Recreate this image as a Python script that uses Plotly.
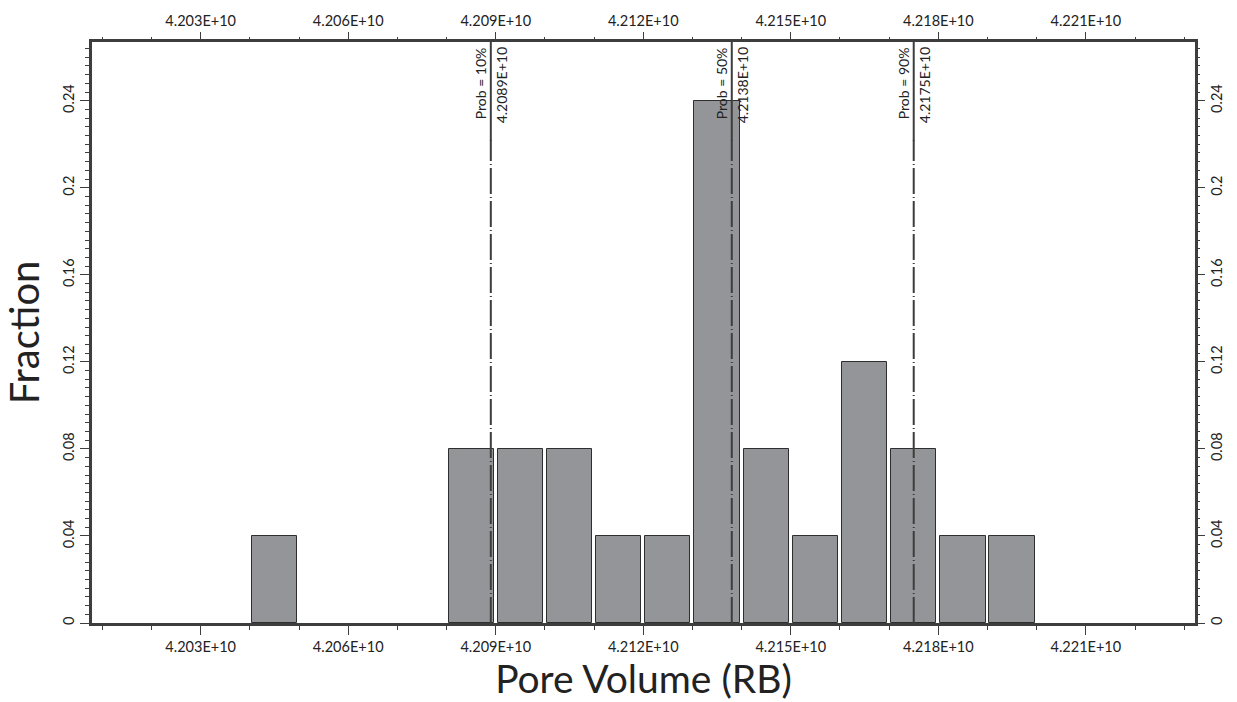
import plotly.graph_objects as go

# Histogram of pore volume (RB): left edge of each bin and its fraction
bin_start = [4.204e10, 4.208e10, 4.209e10, 4.210e10, 4.211e10, 4.212e10, 4.213e10,
             4.214e10, 4.215e10, 4.216e10, 4.217e10, 4.218e10, 4.219e10]
fraction = [0.04, 0.08, 0.08, 0.08, 0.04, 0.04, 0.24, 0.08, 0.04, 0.12, 0.08, 0.04, 0.04]
bin_width = 1e7

# Cumulative probability markers
prob_pct = [10, 50, 90]
prob_value = [4.2089e10, 4.2138e10, 4.2175e10]

# Axis ticks
x_ticks = [4.203e10, 4.206e10, 4.209e10, 4.212e10, 4.215e10, 4.218e10, 4.221e10]
x_range = [4.20079e10, 4.22322e10]
y_range = [0, 0.267]
y_mid_ticks = [0.02, 0.06, 0.10, 0.14, 0.18, 0.22, 0.26]

FONT = "Lato"
INK = "#3d3d3d"
BAR = "#939598"

centers = [s + bin_width / 2 for s in bin_start]
x_text = [f"{v:.3E}" for v in x_ticks]

fig = go.Figure()
fig.add_trace(go.Bar(
    x=centers, y=fraction, width=bin_width * 0.92,
    marker=dict(color=BAR, line=dict(color="#2e2e2e", width=1)),
    hoverinfo="x+y", showlegend=False,
))
# invisible copy so the top/right axes have a subplot to live on
fig.add_trace(go.Scatter(
    x=centers, y=fraction, xaxis="x2", yaxis="y2", mode="markers",
    marker=dict(opacity=0), hoverinfo="skip", showlegend=False,
))

tick_font = dict(family=FONT, size=14.5, color="#222")

common_x = dict(
    range=x_range, tickmode="array", tickvals=x_ticks, ticktext=x_text,
    ticks="outside", ticklen=9, tickwidth=1, tickcolor=INK,
    minor=dict(tickmode="linear", tick0=4.2e10, dtick=1e7, ticks="outside",
               ticklen=4, tickwidth=1, tickcolor=INK, showgrid=False),
    showgrid=False, zeroline=False, tickfont=tick_font,
)
common_y = dict(
    range=y_range, tickmode="linear", tick0=0, dtick=0.04,
    ticks="outside", ticklen=9, tickwidth=1, tickcolor=INK, tickangle=-90,
    minor=dict(tickmode="linear", tick0=0, dtick=0.004, ticks="outside",
               ticklen=4, tickwidth=1, tickcolor=INK, showgrid=False),
    showgrid=False, zeroline=False, tickfont=tick_font,
)

fig.update_layout(
    width=1237, height=702,
    margin=dict(l=92, r=42, t=34, b=79),
    paper_bgcolor="white", plot_bgcolor="white",
    bargap=0, showlegend=False,
    font=dict(family=FONT, color="#222"),
    xaxis=dict(**common_x, side="bottom",
               showline=True, linewidth=3, linecolor=INK, mirror=True,
               title=dict(text="Pore Volume (RB)", font=dict(family=FONT, size=39, color="#222"),
                          standoff=7)),
    xaxis2=dict(**common_x, side="top", overlaying="x", anchor="y"),
    yaxis=dict(**common_y, side="left",
               showline=True, linewidth=3, linecolor=INK, mirror=True,
               title=dict(text="Fraction", font=dict(family=FONT, size=40, color="#222"),
                          standoff=11)),
    yaxis2=dict(**common_y, side="right", overlaying="y", anchor="x"),
    yaxis3=dict(range=y_range, overlaying="y", side="left", anchor="x",
                tickmode="array", tickvals=y_mid_ticks, ticks="outside", ticklen=6,
                tickwidth=1, tickcolor=INK, showticklabels=False,
                showgrid=False, zeroline=False),
    yaxis4=dict(range=y_range, overlaying="y", side="right", anchor="x",
                tickmode="array", tickvals=y_mid_ticks, ticks="outside", ticklen=6,
                tickwidth=1, tickcolor=INK, showticklabels=False,
                showgrid=False, zeroline=False),
)

# Percentile lines with their labels
label_font = dict(family=FONT, size=14, color="#222")
for pct, val in zip(prob_pct, prob_value):
    fig.add_shape(type="line", xref="x", yref="y", x0=val, x1=val, y0=0, y1=0.222,
                  line=dict(color=INK, width=2, dash="26px,3px,1px,3px"))
    fig.add_shape(type="line", xref="x", yref="paper", x0=val, x1=val, y0=0.83, y1=1,
                  line=dict(color=INK, width=2))
    fig.add_annotation(x=val, y=1, xref="x", yref="paper", text=f"Prob = {pct}%",
                       textangle=-90, xanchor="right", yanchor="top", xshift=0, yshift=-3,
                       showarrow=False, font=label_font)
    fig.add_annotation(x=val, y=1, xref="x", yref="paper", text=f"{val:.4E}",
                       textangle=-90, xanchor="left", yanchor="top", xshift=0, yshift=-3,
                       showarrow=False, font=label_font)

fig.write_html("out.html")
